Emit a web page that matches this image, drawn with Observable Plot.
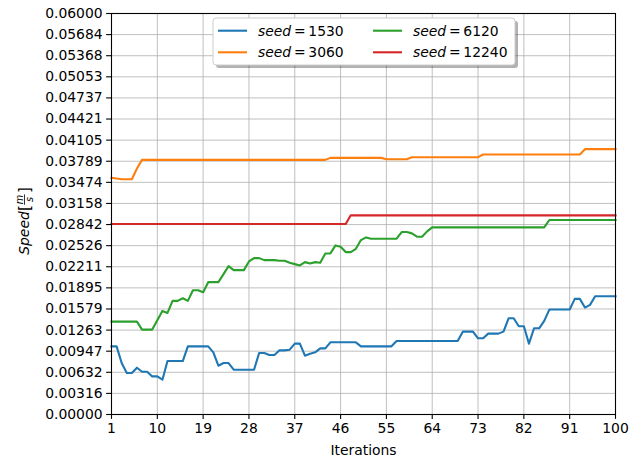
<!DOCTYPE html>
<html>
<head>
<meta charset="utf-8">
<script src="https://cdn.jsdelivr.net/npm/d3@7"></script>
<script src="https://cdn.jsdelivr.net/npm/@observablehq/plot@0.6"></script>
<style>
  html, body { margin: 0; padding: 0; background: white; }
  #chart { width: 640px; height: 459px; }
</style>
</head>
<body>
<div id="chart"></div>
<script>
// ---- data ----
const iterations = [1,2,3,4,5,6,7,8,9,10,11,12,13,14,15,16,17,18,19,20,21,22,23,24,25,26,27,28,29,30,31,32,33,34,35,36,37,38,39,40,41,42,43,44,45,46,47,48,49,50,51,52,53,54,55,56,57,58,59,60,61,62,63,64,65,66,67,68,69,70,71,72,73,74,75,76,77,78,79,80,81,82,83,84,85,86,87,88,89,90,91,92,93,94,95,96,97,98,99,100];

const seedLabels = ["1530", "3060", "6120", "12240"];
const seedColors = ["#1f77b4", "#ff7f0e", "#2ca02c", "#d62728"];

const seed1530 = [
  0.0102,0.0102,0.0077,0.0062,0.0062,0.0070,0.0064,0.0064,0.0057,0.0057,
  0.0052,0.0080,0.0080,0.0080,0.0080,0.0102,0.0102,0.0102,0.0102,0.0102,
  0.0093,0.0073,0.0077,0.0077,0.0067,0.0067,0.0067,0.0067,0.0067,0.0092,
  0.0092,0.0089,0.0089,0.0096,0.0096,0.0097,0.0106,0.0106,0.0088,0.0091,
  0.0093,0.0099,0.0099,0.0108,0.0108,0.0108,0.0108,0.0108,0.0108,0.0102,
  0.0102,0.0102,0.0102,0.0102,0.0102,0.0102,0.0110,0.0110,0.0110,0.0110,
  0.0110,0.0110,0.0110,0.0110,0.0110,0.0110,0.0110,0.0110,0.0110,0.0124,
  0.0124,0.0124,0.0114,0.0114,0.0121,0.0121,0.0121,0.0124,0.0144,0.0144,
  0.0132,0.0132,0.0106,0.0129,0.0129,0.0140,0.0157,0.0157,0.0157,0.0157,
  0.0157,0.0173,0.0173,0.0160,0.0164,0.0177,0.0177,0.0177,0.0177,0.0177
];
const seed3060 = [
  0.0354,0.0353,0.0352,0.0352,0.0352,0.0368,0.0381,0.0381,0.0381,0.0381,
  0.0381,0.0381,0.0381,0.0381,0.0381,0.0381,0.0381,0.0381,0.0381,0.0381,
  0.0381,0.0381,0.0381,0.0381,0.0381,0.0381,0.0381,0.0381,0.0381,0.0381,
  0.0381,0.0381,0.0381,0.0381,0.0381,0.0381,0.0381,0.0381,0.0381,0.0381,
  0.0381,0.0381,0.0381,0.0384,0.0384,0.0384,0.0384,0.0384,0.0384,0.0384,
  0.0384,0.0384,0.0384,0.0384,0.0382,0.0382,0.0382,0.0382,0.0382,0.0385,
  0.0385,0.0385,0.0385,0.0385,0.0385,0.0385,0.0385,0.0385,0.0385,0.0385,
  0.0385,0.0385,0.0385,0.0389,0.0389,0.0389,0.0389,0.0389,0.0389,0.0389,
  0.0389,0.0389,0.0389,0.0389,0.0389,0.0389,0.0389,0.0389,0.0389,0.0389,
  0.0389,0.0389,0.0389,0.0397,0.0397,0.0397,0.0397,0.0397,0.0397,0.0397
];
const seed6120 = [
  0.0139,0.0139,0.0139,0.0139,0.0139,0.0139,0.0127,0.0127,0.0127,0.0141,
  0.0155,0.0152,0.0170,0.0170,0.0174,0.0170,0.0186,0.0186,0.0183,0.0198,
  0.0198,0.0198,0.0210,0.0222,0.0216,0.0216,0.0216,0.0229,0.0234,0.0234,
  0.0231,0.0231,0.0231,0.0230,0.0230,0.0227,0.0225,0.0223,0.0228,0.0226,
  0.0228,0.0227,0.0241,0.0241,0.0253,0.0251,0.0243,0.0243,0.0248,0.0261,
  0.0265,0.0263,0.0263,0.0263,0.0263,0.0263,0.0263,0.0273,0.0273,0.0271,
  0.0266,0.0266,0.0274,0.0280,0.0280,0.0280,0.0280,0.0280,0.0280,0.0280,
  0.0280,0.0280,0.0280,0.0280,0.0280,0.0280,0.0280,0.0280,0.0280,0.0280,
  0.0280,0.0280,0.0280,0.0280,0.0280,0.0280,0.0291,0.0291,0.0291,0.0291,
  0.0291,0.0291,0.0291,0.0291,0.0291,0.0291,0.0291,0.0291,0.0291,0.0291
];
const seed12240 = [
  0.0285,0.0285,0.0285,0.0285,0.0285,0.0285,0.0285,0.0285,0.0285,0.0285,
  0.0285,0.0285,0.0285,0.0285,0.0285,0.0285,0.0285,0.0285,0.0285,0.0285,
  0.0285,0.0285,0.0285,0.0285,0.0285,0.0285,0.0285,0.0285,0.0285,0.0285,
  0.0285,0.0285,0.0285,0.0285,0.0285,0.0285,0.0285,0.0285,0.0285,0.0285,
  0.0285,0.0285,0.0285,0.0285,0.0285,0.0285,0.0285,0.0298,0.0298,0.0298,
  0.0298,0.0298,0.0298,0.0298,0.0298,0.0298,0.0298,0.0298,0.0298,0.0298,
  0.0298,0.0298,0.0298,0.0298,0.0298,0.0298,0.0298,0.0298,0.0298,0.0298,
  0.0298,0.0298,0.0298,0.0298,0.0298,0.0298,0.0298,0.0298,0.0298,0.0298,
  0.0298,0.0298,0.0298,0.0298,0.0298,0.0298,0.0298,0.0298,0.0298,0.0298,
  0.0298,0.0298,0.0298,0.0298,0.0298,0.0298,0.0298,0.0298,0.0298,0.0298
];

const xTicks = [1, 10, 19, 28, 37, 46, 55, 64, 73, 82, 91, 100];
const yTicks = [0, 0.0031579, 0.0063158, 0.0094737, 0.0126316, 0.0157895, 0.0189474, 0.0221053, 0.0252632, 0.0284211,
                0.0315789, 0.0347368, 0.0378947, 0.0410526, 0.0442105, 0.0473684, 0.0505263, 0.0536842, 0.0568421, 0.06];
const yTickLabels = ["0.00000","0.00316","0.00632","0.00947","0.01263","0.01579","0.01895","0.02211","0.02526","0.02842",
                     "0.03158","0.03474","0.03789","0.04105","0.04421","0.04737","0.05053","0.05368","0.05684","0.06000"];

// ---- build ----
const seriesValues = [seed1530, seed3060, seed6120, seed12240];
const rows = [];
seriesValues.forEach((vals, s) => {
  vals.forEach((v, i) => rows.push({iter: iterations[i], v, seed: seedLabels[s]}));
});

const FONT = "DejaVu Sans, sans-serif";
const FS = 13.9;

const chart = Plot.plot({
  width: 640,
  height: 459,
  marginLeft: 111,
  marginRight: 25,
  marginTop: 13,
  marginBottom: 45,
  style: {fontFamily: FONT, fontSize: FS + "px", color: "black", background: "white", overflow: "visible"},
  x: {domain: [1, 100]},
  y: {domain: [0, 0.06]},
  color: {domain: seedLabels, range: seedColors},
  marks: [
    Plot.gridX(xTicks, {stroke: "#b0b0b0", strokeOpacity: 1, strokeWidth: 0.8}),
    Plot.gridY(yTicks, {stroke: "#b0b0b0", strokeOpacity: 1, strokeWidth: 0.8}),
    Plot.line(rows, {x: "iter", y: "v", z: "seed", stroke: "seed", strokeWidth: 2.1, strokeLinejoin: "round", strokeLinecap: "square"}),
    Plot.frame({stroke: "black", strokeWidth: 1.1}),
    Plot.axisX(xTicks, {tickSize: 4.9, tickPadding: 4, strokeWidth: 1.1, tickFormat: d => String(d),
      label: "Iterations", labelAnchor: "center", labelArrow: "none", labelOffset: 40, fontSize: FS}),
    Plot.axisY(yTicks, {tickSize: 4.9, tickPadding: 4, strokeWidth: 1.1, tickFormat: (d, i) => yTickLabels[i],
      label: null, fontSize: FS})
  ]
});

document.getElementById("chart").appendChild(chart);

const svg = d3.select(chart);

// ---- y-axis label: Speed[m/s] ----
const ylOuter = svg.append("g").attr("transform", "translate(28.5,221) rotate(-90)");
const yl = ylOuter.append("g").attr("font-family", FONT).attr("fill", "black").attr("text-anchor", "start");
const tSpeed = yl.append("text").attr("x", 0).attr("y", 0).attr("font-size", FS).attr("font-style", "italic").text("Speed");
let cx = tSpeed.node().getComputedTextLength() + 0.3;
const tBr1 = yl.append("text").attr("x", cx).attr("y", 1.5).attr("font-size", 15).text("[");
cx += tBr1.node().getComputedTextLength() + 0.3;
const fracC = cx + 5.2;
yl.append("text").attr("x", fracC).attr("y", -6).attr("font-size", 9.7).attr("font-style", "italic").attr("text-anchor", "middle").text("m");
yl.append("line").attr("x1", fracC - 5.2).attr("x2", fracC + 5.2).attr("y1", -4).attr("y2", -4).attr("stroke", "black").attr("stroke-width", 0.8);
yl.append("text").attr("x", fracC).attr("y", 4.5).attr("font-size", 9.7).attr("font-style", "italic").attr("text-anchor", "middle").text("s");
const tBr2 = yl.append("text").attr("x", fracC + 6.5).attr("y", 1.5).attr("font-size", 15).text("]");
const totalW = fracC + 6.5 + tBr2.node().getComputedTextLength();
yl.attr("transform", `translate(${-totalW / 2},0)`);

// ---- legend ----
const lg = svg.append("g").attr("font-family", FONT).attr("font-size", FS).attr("text-anchor", "start");
const LX = 213, LY = 18, LW = 302, LH = 47;
lg.append("rect").attr("x", LX + 3).attr("y", LY + 3).attr("width", LW).attr("height", LH).attr("rx", 3)
  .attr("fill", "#000").attr("fill-opacity", 0.3);
lg.append("rect").attr("x", LX).attr("y", LY).attr("width", LW).attr("height", LH).attr("rx", 3)
  .attr("fill", "white").attr("stroke", "#cccccc").attr("stroke-width", 1);
const pos = [[218, 30.7], [218, 52.3], [373, 30.7], [373, 52.3]];
seedLabels.forEach((lab, i) => {
  const [px, py] = pos[i];
  lg.append("line").attr("x1", px).attr("x2", px + 29).attr("y1", py).attr("y2", py)
    .attr("stroke", seedColors[i]).attr("stroke-width", 2.1);
  const t = lg.append("text").attr("x", px + 40).attr("y", py).attr("dy", "0.35em").attr("fill", "black");
  t.append("tspan").attr("font-style", "italic").text("seed");
  t.append("tspan").text("\u2009=\u2009" + lab);
});
</script>
</body>
</html>
